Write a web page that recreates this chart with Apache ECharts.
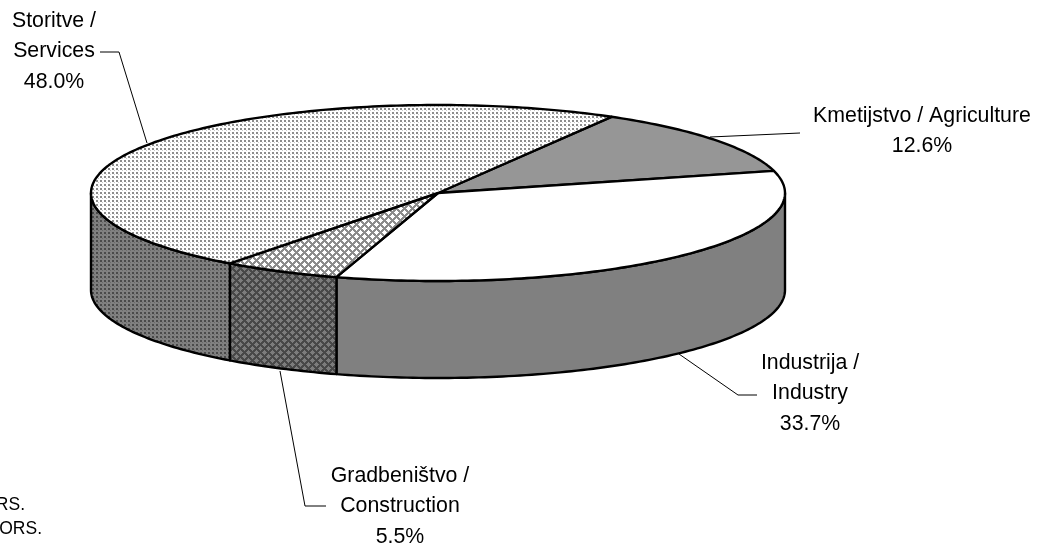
<!DOCTYPE html>
<html><head><meta charset="utf-8">
<script src="https://cdn.jsdelivr.net/npm/echarts@6/dist/echarts.min.js"></script>
<style>html,body{margin:0;padding:0;background:#fff;overflow:hidden}#c{width:1037px;height:545px}</style>
</head><body><div id="c"></div>
<script>
const names = ['Kmetijstvo / Agriculture', 'Industrija / Industry', 'Gradbeništvo / Construction', 'Storitve / Services'];
const shares = [12.6, 33.7, 5.5, 48.0];
const labelLines = [['Kmetijstvo / Agriculture'], ['Industrija /', 'Industry'], ['Gradbeništvo /', 'Construction'], ['Storitve /', 'Services']];
const footnotes = ['RS.', 'ORS.'];

const CX = 438, CY = 193, A = 347, B = 88, DEPTH = 97, START = 60;
const total = shares.reduce((a, b) => a + b, 0);

function tile(w, h, draw) {
  const c = document.createElement('canvas');
  c.width = w; c.height = h;
  draw(c.getContext('2d'));
  return { image: c, repeat: 'repeat' };
}
function dots(bg, fg, fg2) {
  return tile(8, 8, g => {
    g.fillStyle = bg; g.fillRect(0, 0, 8, 8);
    g.fillStyle = fg;  [[0, 0], [4, 0], [0, 4], [4, 4]].forEach(p => g.fillRect(p[0], p[1], 2, 2));
    g.fillStyle = fg2; [[2, 2], [6, 2], [2, 6], [6, 6]].forEach(p => g.fillRect(p[0], p[1], 1, 1));
  });
}
function hatch(hole, lineCol) {
  return tile(8, 8, g => {
    const holes = [[0,0],[8,0],[0,8],[8,8],[4,4]];
    for (let y = 0; y < 8; y++) for (let x = 0; x < 8; x++) {
      const d = Math.min(...holes.map(h => Math.abs(h[0] - x) + Math.abs(h[1] - y)));
      g.fillStyle = d <= 2 ? hole : lineCol;
      g.fillRect(x, y, 1, 1);
    }
  });
}
const topFills = ['#969696', '#ffffff', hatch('#ffffff', '#8c8c8c'), dots('#ffffff', '#8c8c8c', '#c8c8c8')];
const wallFills = ['#808080', '#808080', hatch('#7c7c7c', '#484848'), dots('#808080', '#4a4a4a', '#6a6a6a')];

let acc = START;
const spans = shares.map(v => { const s = acc; acc -= v / total * 360; return [s, acc]; });
const pt = (deg, dy) => { const r = deg * Math.PI / 180; return [CX + A * Math.cos(r), CY - B * Math.sin(r) + (dy || 0)]; };
function arc(from, to, dy) {
  const n = Math.max(2, Math.ceil(Math.abs(from - to))), out = [];
  for (let i = 0; i <= n; i++) out.push(pt(from + (to - from) * i / n, dy));
  return out;
}
const stroke = { stroke: '#000', lineWidth: 2.4, lineJoin: 'round' };

const wallSeries = {
  type: 'custom', coordinateSystem: 'none', silent: true, z: 1,
  data: shares.map((v, i) => i),
  renderItem(p, api) {
    const i = api.value(0);
    const s = Math.min(spans[i][0], 0), e = Math.max(spans[i][1], -180);
    if (s <= e) return { type: 'group', children: [] };
    return { type: 'polygon', shape: { points: arc(s, e, 0).concat(arc(e, s, DEPTH)) }, style: Object.assign({ fill: wallFills[i] }, stroke) };
  }
};
const topSeries = {
  type: 'custom', coordinateSystem: 'none', silent: true, z: 2,
  data: shares.map((v, i) => i),
  renderItem(p, api) {
    const i = api.value(0);
    const pts = [[CX, CY]].concat(arc(spans[i][0], spans[i][1], 0));
    return { type: 'polygon', shape: { points: pts }, style: Object.assign({ fill: topFills[i] }, stroke) };
  }
};

const text = (x, y, t, size, align) => ({
  type: 'text', z: 10, silent: true,
  style: { x, y, text: t, fill: '#000', font: size + 'px "Liberation Sans", Arial, sans-serif', textAlign: align || 'center', textVerticalAlign: 'middle' }
});
const line = pts => ({ type: 'polyline', z: 9, silent: true, shape: { points: pts }, style: { stroke: '#000', lineWidth: 1, fill: null } });
const block = (x, y, i) => labelLines[i].concat(shares[i].toFixed(1) + '%').map((t, k) => text(x, y + k * 30.5, t, 21.3));

const graphic = [].concat(
  block(922, 116, 0), block(810, 363, 1), block(400, 476, 2), block(54, 21, 3),
  line([[710, 137], [800, 133]]),
  line([[679, 354], [738, 395], [757, 395]]),
  line([[280, 371], [305, 506], [326, 506]]),
  line([[100, 52], [119, 52], [147, 143]]),
  text(25, 505, footnotes[0], 17.5, 'right'),
  text(42, 529, footnotes[1], 17.5, 'right')
);

const chart = echarts.init(document.getElementById('c'), null, { renderer: 'canvas' });
chart.setOption({ animation: false, backgroundColor: '#fff', series: [wallSeries, topSeries], graphic });
</script></body></html>
